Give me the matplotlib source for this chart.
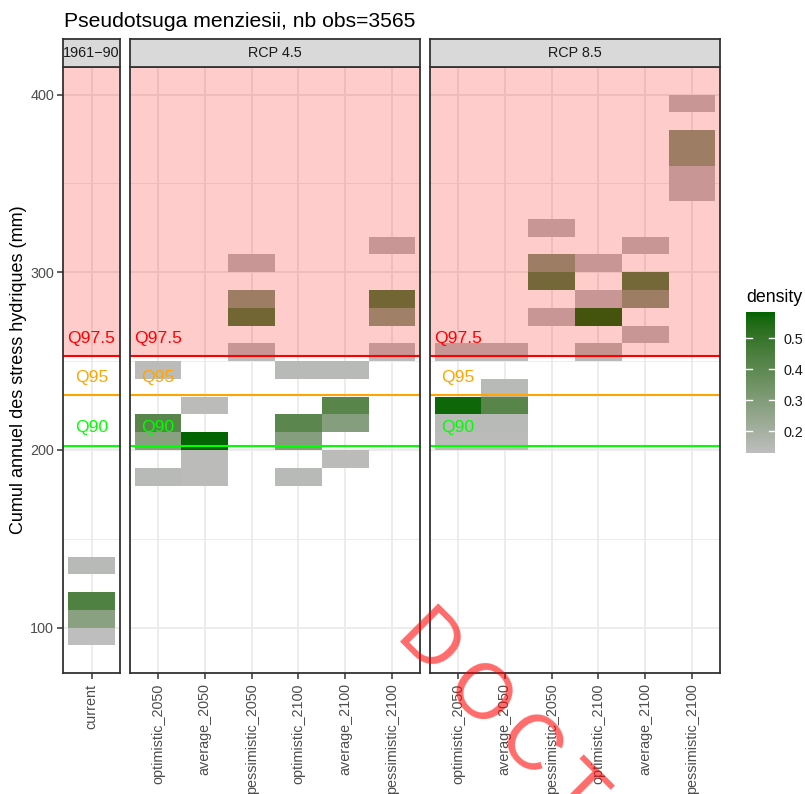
import numpy as np
import matplotlib
matplotlib.use("Agg")
import matplotlib.pyplot as plt
from matplotlib.colors import ListedColormap, Normalize

plt.rcParams["font.family"] = ["Liberation Sans", "DejaVu Sans"]

# ---------------------------------------------------------------- data
title = "Pseudotsuga menziesii, nb obs=3565"
y_label = "Cumul annuel des stress hydriques (mm)"

panel_titles = ["1961\u221290", "RCP 4.5", "RCP 8.5"]

hist_categories = ["current"]
rcp45_categories = ["optimistic_2050", "average_2050", "pessimistic_2050",
                    "optimistic_2100", "average_2100", "pessimistic_2100"]
rcp85_categories = ["optimistic_2050", "average_2050", "pessimistic_2050",
                    "optimistic_2100", "average_2100", "pessimistic_2100"]

# 2D bins: scenario, lower edge of the 10 mm stress bin, density
hist_scenario = ["current", "current", "current", "current"]
hist_stress = [130, 110, 100, 90]
hist_density = [0.15, 0.44, 0.28, 0.13]

rcp45_scenario = ["optimistic_2050", "optimistic_2050", "optimistic_2050", "optimistic_2050",
                  "average_2050", "average_2050", "average_2050", "average_2050",
                  "pessimistic_2050", "pessimistic_2050", "pessimistic_2050", "pessimistic_2050",
                  "optimistic_2100", "optimistic_2100", "optimistic_2100", "optimistic_2100",
                  "average_2100", "average_2100", "average_2100", "average_2100",
                  "pessimistic_2100", "pessimistic_2100", "pessimistic_2100", "pessimistic_2100"]
rcp45_stress = [240, 210, 200, 180,
                220, 200, 190, 180,
                300, 280, 270, 250,
                240, 210, 200, 180,
                240, 220, 210, 190,
                310, 280, 270, 250]
rcp45_density = [0.14, 0.42, 0.28, 0.15,
                 0.14, 0.584, 0.14, 0.14,
                 0.14, 0.29, 0.44, 0.14,
                 0.15, 0.41, 0.29, 0.15,
                 0.15, 0.42, 0.29, 0.14,
                 0.14, 0.44, 0.28, 0.14]

rcp85_scenario = ["optimistic_2050", "optimistic_2050", "optimistic_2050", "optimistic_2050",
                  "average_2050", "average_2050", "average_2050", "average_2050", "average_2050",
                  "pessimistic_2050", "pessimistic_2050", "pessimistic_2050", "pessimistic_2050",
                  "optimistic_2100", "optimistic_2100", "optimistic_2100", "optimistic_2100",
                  "average_2100", "average_2100", "average_2100", "average_2100",
                  "pessimistic_2100", "pessimistic_2100", "pessimistic_2100", "pessimistic_2100",
                  "pessimistic_2100"]
rcp85_stress = [250, 220, 210, 200,
                250, 230, 220, 210, 200,
                320, 300, 290, 270,
                300, 280, 270, 250,
                310, 290, 280, 260,
                390, 370, 360, 350, 340]
rcp85_density = [0.14, 0.57, 0.15, 0.14,
                 0.14, 0.15, 0.42, 0.15, 0.14,
                 0.14, 0.29, 0.43, 0.14,
                 0.14, 0.14, 0.56, 0.15,
                 0.14, 0.43, 0.29, 0.14,
                 0.14, 0.29, 0.29, 0.14, 0.14]

# quantile thresholds of the historical distribution
threshold_names = ["Q90", "Q95", "Q97.5"]
threshold_values = [202.5, 231.0, 253.0]
threshold_colors = ["#00FF00", "#FFA500", "#FF0000"]

y_ticks = [100, 200, 300, 400]
y_minor = [150, 250, 350]
legend_ticks = [0.2, 0.3, 0.4, 0.5]

stamp_word = "DOCTORAT"

BIN = 10
Y_LIM = (74.5, 415.5)


# ---------------------------------------------------------------- colour ramp (CIELAB, grey -> darkgreen)
_M = np.array([[0.4124564, 0.3575761, 0.1804375],
               [0.2126729, 0.7151522, 0.0721750],
               [0.0193339, 0.1191920, 0.9503041]])
_WHITE = np.array([0.95047, 1.0, 1.08883])


def _srgb_to_lab(rgb):
    c = np.asarray(rgb, float)
    lin = np.where(c <= 0.04045, c / 12.92, ((c + 0.055) / 1.055) ** 2.4)
    xyz = _M @ lin / _WHITE
    d = 6 / 29
    f = np.where(xyz > d ** 3, np.cbrt(xyz), xyz / (3 * d * d) + 4 / 29)
    return np.array([116 * f[1] - 16, 500 * (f[0] - f[1]), 200 * (f[1] - f[2])])


def _lab_to_srgb(lab):
    L, a, b = lab
    fy_ = (L + 16) / 116
    f = np.array([fy_ + a / 500, fy_, fy_ - b / 200])
    d = 6 / 29
    xyz = np.where(f > d, f ** 3, 3 * d * d * (f - 4 / 29)) * _WHITE
    lin = np.clip(np.linalg.inv(_M) @ xyz, 0, 1)
    c = np.where(lin <= 0.0031308, 12.92 * lin, 1.055 * lin ** (1 / 2.4) - 0.055)
    return np.clip(c, 0, 1)


low = _srgb_to_lab(np.array([190, 190, 190]) / 255)
high = _srgb_to_lab(np.array([0, 100, 0]) / 255)
ramp = [_lab_to_srgb(low + (high - low) * t) for t in np.linspace(0, 1, 256)]
cmap = ListedColormap(ramp)

all_density = hist_density + rcp45_density + rcp85_density
norm = Normalize(vmin=min(all_density), vmax=max(all_density))

# ---------------------------------------------------------------- figure
W, H = 805, 794
fig = plt.figure(figsize=(W / 100, H / 100), dpi=100)
fig.patch.set_facecolor("white")


def fx(px):
    return px / W


def fy(py):
    return 1 - py / H


panel_top, panel_bottom = 67, 673
panels_px = [(63, 120), (130, 420), (430, 720)]
strip_top = 39

BORDER = "#333333"
GRID = "#EBEBEB"
TEXT = "#4D4D4D"

panel_data = [
    (hist_categories, hist_scenario, hist_stress, hist_density),
    (rcp45_categories, rcp45_scenario, rcp45_stress, rcp45_density),
    (rcp85_categories, rcp85_scenario, rcp85_stress, rcp85_density),
]

for k, ((x0, x1), (cats, scen, stress, dens)) in enumerate(zip(panels_px, panel_data)):
    ax = fig.add_axes([fx(x0), fy(panel_bottom), fx(x1 - x0), (panel_bottom - panel_top) / H])
    ax.set_xlim(-0.6, len(cats) - 0.4)
    ax.set_ylim(*Y_LIM)

    # grid
    for yv in y_ticks:
        ax.axhline(yv, color=GRID, lw=1.3, zorder=0.5)
    for yv in y_minor:
        ax.axhline(yv, color=GRID, lw=0.65, zorder=0.5)
    for i in range(len(cats)):
        ax.axvline(i, color=GRID, lw=1.3, zorder=0.5)

    # density tiles
    xs = [cats.index(s) for s in scen]
    ax.bar(xs, [BIN] * len(xs), bottom=stress, width=1.0, align="center",
           color=cmap(norm(dens)), linewidth=0, zorder=1)

    # extreme zone above Q97.5
    ax.axhspan(threshold_values[2], Y_LIM[1] + 50, color="red", alpha=0.2, lw=0, zorder=2)

    for name, val, col in zip(threshold_names, threshold_values, threshold_colors):
        ax.axhline(val, color=col, lw=1.5, zorder=3)
        ax.text(0, val + 10, name, color=col, fontsize=12.6, ha="center", va="center", zorder=4)

    for sp in ax.spines.values():
        sp.set_color(BORDER)
        sp.set_linewidth(1.3)
        sp.set_zorder(5)

    ax.set_xticks(range(len(cats)))
    ax.set_xticklabels(cats, rotation=90, fontsize=10.4, color=TEXT, va="top", ha="center")
    ax.set_yticks(y_ticks)
    ax.tick_params(axis="x", length=4.5, width=1.1, color=BORDER, pad=3)
    if k == 0:
        ax.set_yticklabels([str(v) for v in y_ticks], fontsize=10.4, color=TEXT)
        ax.tick_params(axis="y", length=4.5, width=1.1, color=BORDER, pad=2)
    else:
        ax.set_yticklabels([])
        ax.tick_params(axis="y", length=0)

    # facet strip
    sax = fig.add_axes([fx(x0), fy(panel_top), fx(x1 - x0), (panel_top - strip_top) / H])
    sax.set_facecolor("#D9D9D9")
    sax.set_xticks([])
    sax.set_yticks([])
    for sp in sax.spines.values():
        sp.set_color(BORDER)
        sp.set_linewidth(1.3)
    sax.text(0.5, 0.5, panel_titles[k], transform=sax.transAxes, ha="center", va="center",
             fontsize=10.4, color="#1A1A1A")

# titles
fig.text(fx(64), fy(26.7), title, fontsize=15.2, ha="left", va="baseline", color="black")
fig.text(fx(18.5), fy((panel_top + panel_bottom) / 2), y_label, rotation=90,
         fontsize=13, ha="center", va="center", color="black")

# colour bar legend
fig.text(fx(746), fy(302), "density", fontsize=12.8, ha="left", va="baseline", color="black")
cax = fig.add_axes([fx(746), fy(452.7), fx(29), 140.4 / H])
grad = np.linspace(norm.vmin, norm.vmax, 256).reshape(-1, 1)
cax.imshow(grad, aspect="auto", cmap=cmap, norm=norm, origin="lower",
           extent=(0, 1, norm.vmin, norm.vmax), interpolation="bilinear")
cax.set_xlim(0, 1)
cax.set_ylim(norm.vmin, norm.vmax)
for t in legend_ticks:
    cax.plot([0, 0.2], [t, t], color="white", lw=1.0)
    cax.plot([0.8, 1], [t, t], color="white", lw=1.0)
cax.set_xticks([])
cax.yaxis.tick_right()
cax.set_yticks(legend_ticks)
cax.set_yticklabels([f"{t:.1f}" for t in legend_ticks], fontsize=10.4, color="#1A1A1A")
cax.tick_params(axis="y", length=0, pad=6)
for sp in cax.spines.values():
    sp.set_visible(False)

# diagonal stamp, laid out letter by letter with wide tracking
em = 78.0
tracking = 13.0
advance = {"D": 0.722, "O": 0.778, "C": 0.722, "T": 0.611, "R": 0.722, "A": 0.667}
ang = np.deg2rad(45)
ux, uy = np.cos(ang), np.sin(ang)
cx0, cy0 = 433.0, 641.0
pos = 0.0
for i, ch in enumerate(stamp_word):
    w = advance.get(ch, 0.7) * em
    if i == 0:
        pos = 0.0
    else:
        pos += (advance.get(stamp_word[i - 1], 0.7) * em) / 2 + tracking + w / 2
    px, py = cx0 + pos * ux, cy0 + pos * uy
    fig.text(fx(px), fy(py), ch, rotation=-45, rotation_mode="anchor",
             fontsize=em * 0.72, color="red", alpha=0.58, ha="center",
             va="center_baseline", fontweight="light", zorder=100)

fig.savefig("out.png", dpi=100)
